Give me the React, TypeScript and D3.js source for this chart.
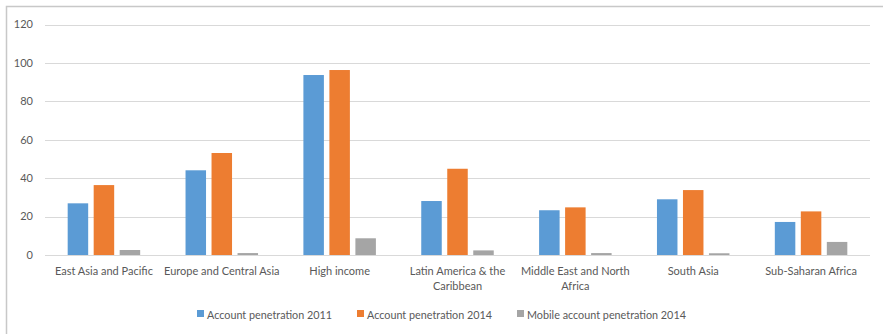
import React, { useEffect, useRef } from "react";
import * as d3 from "d3";

const categories = [
  "East Asia and Pacific",
  "Europe and Central Asia",
  "High income",
  "Latin America & the\nCaribbean",
  "Middle East and North\nAfrica",
  "South Asia",
  "Sub-Saharan Africa",
];
const seriesNames = [
  "Account penetration 2011",
  "Account penetration 2014",
  "Mobile account penetration 2014",
];
const account2011 = [26.9, 44.1, 93.7, 28.1, 23.3, 29.0, 17.2];
const account2014 = [36.4, 53.1, 96.3, 44.9, 24.8, 33.8, 22.7];
const mobile2014 = [2.6, 1.0, 8.7, 2.4, 1.0, 0.9, 6.8];
const yTicks = [0, 20, 40, 60, 80, 100, 120];
const colors = ["#5B9BD5", "#ED7D31", "#A5A5A5"];

export default function App() {
  const ref = useRef<SVGSVGElement>(null);
  useEffect(() => {
    const svg = d3.select(ref.current);
    svg.selectAll("*").remove();
    const W = 883, H = 334;
    const left = 45, right = 870, top = 24.5, bottom = 255;
    const font = "Lato, 'Open Sans', sans-serif";
    const textColor = "#595959";

    svg.append("path")
      .attr("d", `M6.5,${H} L6.5,6.5 L${W},6.5`)
      .attr("fill", "none").attr("stroke", "#C8C8C8").attr("stroke-width", 1.5);

    const x = d3.scaleBand<string>().domain(categories).range([left, right]);
    const y = d3.scaleLinear().domain([0, 120]).range([bottom, top]);
    const barW = 20.5, gap = 5.5;
    const groupW = barW * 3 + gap * 2;
    const xs = d3.scaleBand<number>().domain([0, 1, 2]).range([0, groupW]).paddingInner(gap / (barW + gap));

    const g = svg.append("g");
    g.selectAll("line.grid").data(yTicks).enter().append("line")
      .attr("x1", left).attr("x2", right)
      .attr("y1", d => Math.round(y(d)) + 0.5).attr("y2", d => Math.round(y(d)) + 0.5)
      .attr("stroke", "#D9D9D9").attr("stroke-width", 1.2);

    g.selectAll("text.ytick").data(yTicks).enter().append("text")
      .attr("x", 33).attr("y", d => y(d)).attr("dy", "0.35em")
      .attr("text-anchor", "end").attr("font-family", font).attr("font-size", 11)
      .attr("fill", textColor).text(d => d);

    const series = [account2011, account2014, mobile2014];
    series.forEach((vals, si) => {
      g.selectAll(`rect.s${si}`).data(vals).enter().append("rect")
        .attr("x", (d, i) => x(categories[i])! + x.bandwidth() / 2 - groupW / 2 + xs(si)!)
        .attr("y", d => y(d))
        .attr("width", xs.bandwidth())
        .attr("height", d => y(0) - y(d))
        .attr("fill", colors[si]);
    });

    categories.forEach(c => {
      const t = g.append("text").attr("font-family", font).attr("font-size", 11)
        .attr("fill", textColor).attr("text-anchor", "middle");
      c.split("\n").forEach((line, li) => {
        t.append("tspan").attr("x", x(c)! + x.bandwidth() / 2).attr("y", 275 + li * 15).text(line);
      });
    });

    const legendX = [197, 357, 517];
    seriesNames.forEach((n, i) => {
      g.append("rect").attr("x", legendX[i]).attr("y", 310).attr("width", 7).attr("height", 7).attr("fill", colors[i]);
      g.append("text").attr("x", legendX[i] + 10).attr("y", 318.5).attr("font-family", font)
        .attr("font-size", 10.8).attr("fill", textColor).text(n);
    });
    svg.attr("width", W).attr("height", H);
  }, []);
  return (
    <div style={{ position: "absolute", left: 0, top: 0 }}>
      <svg ref={ref} width={883} height={334} style={{ display: "block", overflow: "hidden" }} />
    </div>
  );
}
